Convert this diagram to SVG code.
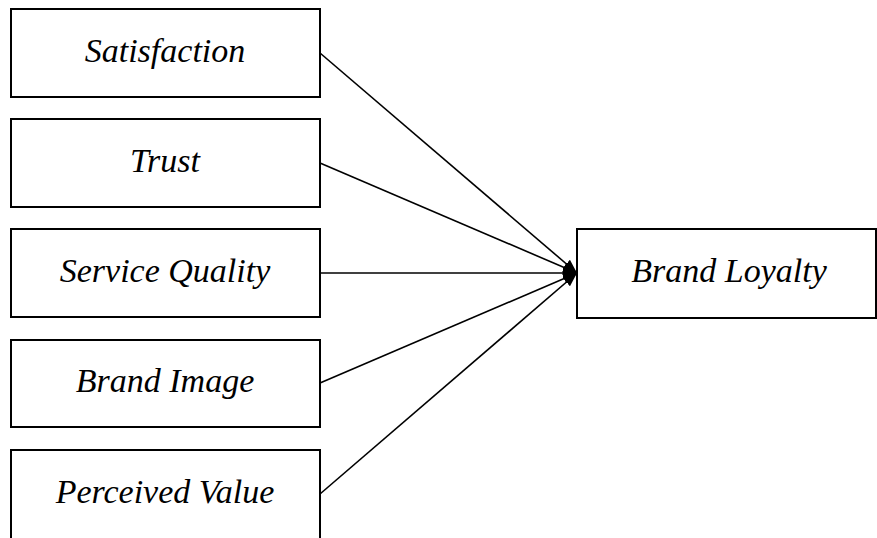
<svg xmlns="http://www.w3.org/2000/svg" width="877" height="538" viewBox="0 0 877 538">
  <style>
    .box { fill: #ffffff; stroke: #000000; stroke-width: 2; }
    .label { font-family: "Liberation Serif", "Times New Roman", serif; font-style: italic; font-size: 34px; fill: #000000; text-anchor: middle; }
    .link { stroke: #000000; stroke-width: 1.6; fill: none; marker-end: url(#head); }
  </style>
  <defs>
    <marker id="head" viewBox="0 0 14 11" refX="14" refY="5.5" markerWidth="14" markerHeight="11" markerUnits="userSpaceOnUse" orient="auto">
      <path d="M0,0 L14,5.5 L0,11 Z" fill="#000000"/>
    </marker>
  </defs>
  <rect width="877" height="538" fill="#ffffff"/>

  <g id="connectors">
    <line class="link" x1="320" y1="53" x2="577" y2="273"/>
    <line class="link" x1="320" y1="163" x2="577" y2="273"/>
    <line class="link" x1="320" y1="273" x2="577" y2="273"/>
    <line class="link" x1="320" y1="383" x2="577" y2="273"/>
    <line class="link" x1="320" y1="494" x2="577" y2="273"/>
  </g>

  <g id="satisfaction">
    <rect class="box" x="11" y="9" width="309" height="88"/>
    <text class="label" x="165" y="62">Satisfaction</text>
  </g>
  <g id="trust">
    <rect class="box" x="11" y="119" width="309" height="88"/>
    <text class="label" x="165" y="172">Trust</text>
  </g>
  <g id="service-quality">
    <rect class="box" x="11" y="229" width="309" height="88"/>
    <text class="label" x="165" y="282">Service Quality</text>
  </g>
  <g id="brand-image">
    <rect class="box" x="11" y="340" width="309" height="87"/>
    <text class="label" x="165" y="392">Brand Image</text>
  </g>
  <g id="perceived-value">
    <rect class="box" x="11" y="450" width="309" height="92"/>
    <text class="label" x="165" y="503">Perceived Value</text>
  </g>
  <g id="brand-loyalty">
    <rect class="box" x="577" y="229" width="299" height="89"/>
    <text class="label" x="729" y="282">Brand Loyalty</text>
  </g>
</svg>
